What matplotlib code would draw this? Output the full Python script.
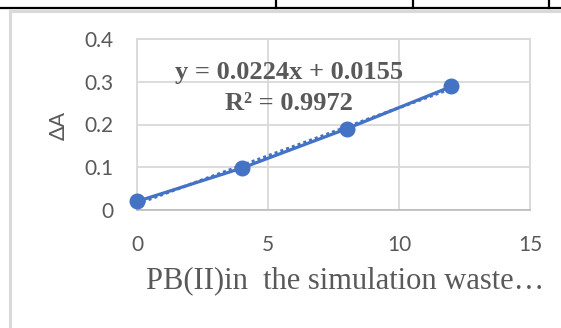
import numpy as np
import matplotlib
matplotlib.use("Agg")
import matplotlib.pyplot as plt
from matplotlib.lines import Line2D
from matplotlib.patches import Rectangle

# Data
x_values = [0, 4, 8, 12]
y_values = [0.02, 0.098, 0.19, 0.289]
x_ticks = [0, 5, 10, 15]
y_ticks = [0, 0.1, 0.2, 0.3, 0.4]
y_tick_labels = ["0", "0.1", "0.2", "0.3", "0.4"]
x_label = "PB(II)in  the simulation waste\u2026"
y_label = "\u0394A"
equation_text = "y = 0.0224x + 0.0155"
r2_text = "R\u00b2 = 0.9972"

W, H = 561, 328
fig = plt.figure(figsize=(W / 100, H / 100), dpi=100)
fig.patch.set_facecolor("white")

def fx(px):
    return px / W

def fy(py):
    return 1 - py / H

# Table line at top
fig.add_artist(Line2D([0, 1], [fy(7.5), fy(7.5)], color="black", lw=1.6))
for xv in [276, 413, 549]:
    fig.add_artist(Line2D([fx(xv), fx(xv)], [fy(0), fy(7.5)], color="black", lw=1.6))

# Chart box border (extends beyond image right & bottom)
fig.add_artist(Rectangle((fx(9.5), fy(H + 20)), fx(W + 40), fy(10.5) - fy(H + 20),
                         fill=False, edgecolor="#d9d9d9", lw=2.2))

# Plot area
left, right = 137, 530
top, bottom = 39, 210
ax = fig.add_axes([fx(left), fy(bottom), fx(right) - fx(left), fy(top) - fy(bottom)])
ax.set_xlim(0, 15)
ax.set_ylim(0, 0.4)
ax.set_xticks(x_ticks)
ax.set_yticks(y_ticks)
ax.set_yticklabels(y_tick_labels)
ax.grid(True, color="#d9d9d9", lw=1.3)
ax.set_axisbelow(True)
for s in ax.spines.values():
    s.set_color("#d9d9d9")
    s.set_linewidth(1.3)
ax.spines["bottom"].set_color("#bfbfbf")
ax.tick_params(length=0, colors="#595959", labelsize=15)
ax.tick_params(axis="y", pad=17)
ax.tick_params(axis="x", pad=18)
for lab in ax.get_xticklabels() + ax.get_yticklabels():
    lab.set_fontfamily("Lato")

# Trendline (dotted)
coef = np.polyfit(x_values, y_values, 1)
tx = np.array([min(x_values), max(x_values)])
ax.plot(tx, np.polyval(coef, tx), color="#4472C4", lw=2.2, ls=(0, (1, 1)), zorder=3)
# Series line with markers
ax.plot(x_values, y_values, color="#4472C4", lw=2.3, marker="o", ms=10.5,
        zorder=4, clip_on=False)

# Equation text
fig.text(fx(289.5), fy(79), equation_text, ha="center", va="baseline",
         family="Liberation Serif", weight="bold", color="#595959", fontsize=19)
fig.text(fx(289), fy(110), r2_text, ha="center", va="baseline",
         family="Liberation Serif", weight="bold", color="#595959", fontsize=19)

# Axis labels
fig.text(fx(59), fy(125), y_label, rotation=90, ha="center", va="center",
         family="Lato", color="#595959", fontsize=15.5)
fig.text(fx(345.5), fy(288), x_label, ha="center", va="baseline",
         family="Liberation Serif", color="#595959", fontsize=22)

fig.savefig("out.png", dpi=100, facecolor="white")
